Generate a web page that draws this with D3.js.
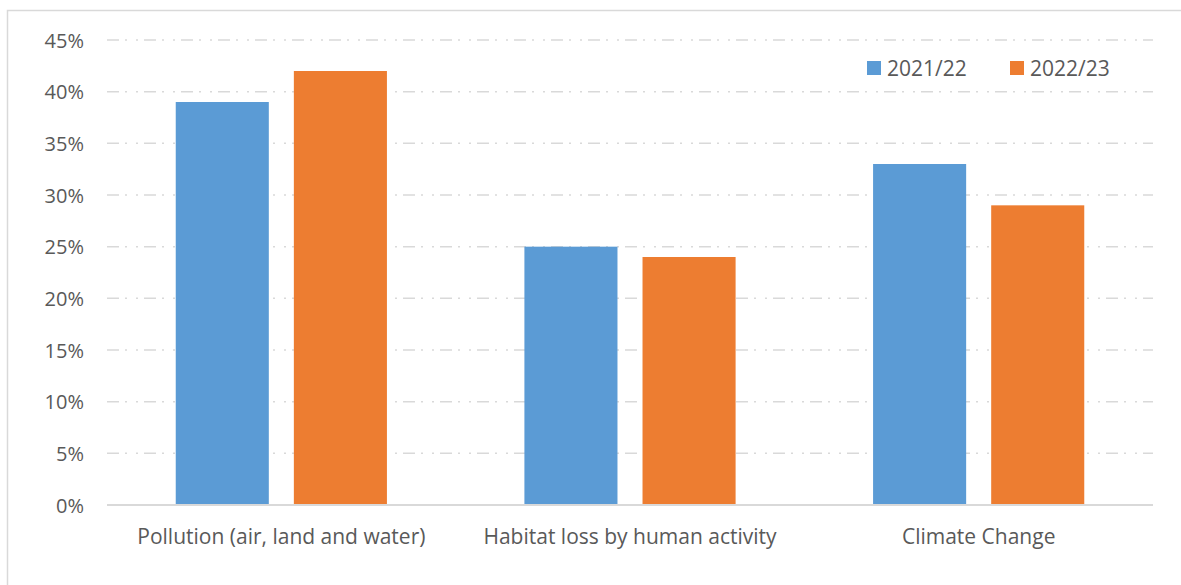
<!DOCTYPE html>
<html>
<head>
<meta charset="utf-8">
<script src="https://cdn.jsdelivr.net/npm/d3@7"></script>
<style>
  html, body { margin: 0; padding: 0; background: #fff; }
  svg text { font-family: "Open Sans", "Liberation Sans", sans-serif; fill: #595959; }
</style>
</head>
<body>
<svg id="chart" width="1181" height="585"></svg>
<script>
// Share of responses by environmental concern, two survey years
const categories = ["Pollution (air, land and water)", "Habitat loss by human activity", "Climate Change"];
const seriesNames = ["2021/22", "2022/23"];
const values2021 = [39, 25, 33];
const values2022 = [42, 24, 29];
const yTicks = [0, 5, 10, 15, 20, 25, 30, 35, 40, 45];
const colors = ["#5b9bd5", "#ed7d31"];

const svg = d3.select("#chart");
const margin = { left: 107, right: 1153, top: 40, bottom: 505 };

// Outer frame (top and left edges)
svg.append("path")
  .attr("d", "M7.5,585 V10.5 H1181")
  .attr("fill", "none")
  .attr("stroke", "#d9d9d9")
  .attr("stroke-width", 1.5);

const x0 = d3.scaleBand().domain(categories).range([margin.left, margin.right]).paddingInner(0).paddingOuter(0);
const x1 = d3.scaleBand().domain(seriesNames).range([0, x0.bandwidth()]).paddingInner(0.212).paddingOuter(0.582);
const y = d3.scaleLinear().domain([0, 45]).range([margin.bottom, margin.top]);

// Gridlines
const grid = svg.append("g");
grid.selectAll("line")
  .data(yTicks.filter(d => d > 0))
  .join("line")
  .attr("x1", margin.left).attr("x2", margin.right)
  .attr("y1", d => y(d)).attr("y2", d => y(d))
  .attr("stroke", "#d9d9d9")
  .attr("stroke-width", 1.5)
  .attr("stroke-dasharray", "12,6,2,9,2,6");

// Bars
const series = [values2021, values2022];
const groups = svg.append("g").selectAll("g")
  .data(categories)
  .join("g")
  .attr("transform", d => `translate(${x0(d)},0)`);

groups.selectAll("rect")
  .data((d, i) => seriesNames.map((s, j) => ({ s, v: series[j][i], c: colors[j] })))
  .join("rect")
  .attr("x", d => x1(d.s))
  .attr("width", x1.bandwidth())
  .attr("y", d => y(d.v))
  .attr("height", d => y(0) - y(d.v))
  .attr("fill", d => d.c);

// Baseline
svg.append("line")
  .attr("x1", margin.left).attr("x2", margin.right)
  .attr("y1", y(0)).attr("y2", y(0))
  .attr("stroke", "#d9d9d9")
  .attr("stroke-width", 2);

// Y axis labels
const yAxis = d3.axisLeft(y).tickValues(yTicks).tickFormat(d => d + "%").tickSize(0).tickPadding(0);
const yg = svg.append("g").attr("transform", "translate(84,0)").call(yAxis);
yg.select(".domain").remove();
yg.selectAll("text").style("font-size", "20px").attr("fill", "#595959").attr("dy", "0.35em");

// X axis labels
const xAxis = d3.axisBottom(x0).tickSize(0).tickPadding(0);
const xg = svg.append("g").attr("transform", `translate(0,${y(0)})`).call(xAxis);
xg.select(".domain").remove();
xg.selectAll("text").style("font-size", "21px").attr("fill", "#595959").attr("dy", "0").attr("y", 39);

// Legend
const legend = svg.append("g").selectAll("g")
  .data(seriesNames)
  .join("g")
  .attr("transform", (d, i) => `translate(${867 + i * 143},61)`);
legend.append("rect").attr("width", 14).attr("height", 14).attr("fill", (d, i) => colors[i]);
legend.append("text").attr("x", 20).attr("y", 14.5).style("font-size", "21px").text(d => d);
</script>
</body>
</html>
